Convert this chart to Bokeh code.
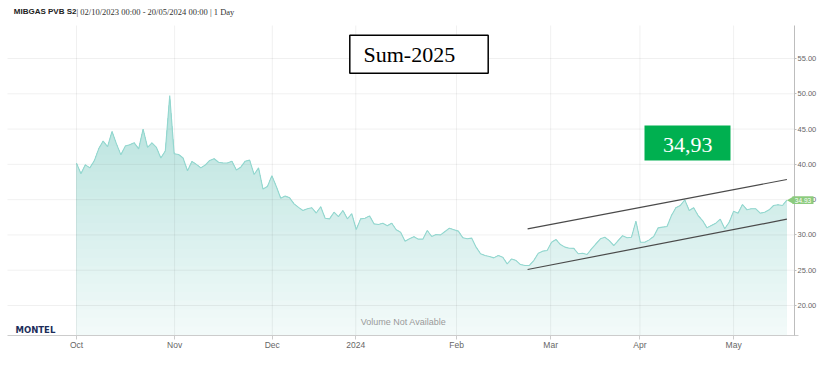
import numpy as np
from bokeh.plotting import figure
from bokeh.models import (Range1d, FixedTicker, NumeralTickFormatter, Label,
                          BoxAnnotation)
from bokeh.embed import file_html
from bokeh.resources import INLINE

# ---------------- data ----------------
title_name = "MIBGAS PVB S2"
title_rest = "| 02/10/2023 00:00 - 20/05/2024 00:00 | 1 Day"
contract = "Sum-2025"

prices = [
    40.17, 38.66, 39.93, 39.50, 40.50, 42.20, 43.30, 42.50, 44.66,
    42.90, 41.35, 42.60, 42.77, 43.05, 42.20, 45.00, 42.40, 43.05, 42.40,
    40.90, 41.90, 49.76, 41.50, 41.40, 40.90, 39.10, 40.40, 40.00, 39.50,
    39.90, 40.55, 40.80, 40.30, 40.20, 40.20, 40.45, 39.20, 39.60, 40.45,
    40.60, 38.56, 39.50, 36.50, 36.86, 38.40, 36.86, 35.20, 35.50, 35.26,
    34.40, 33.90, 33.46, 33.70, 33.85, 33.10, 34.00, 32.37, 32.28, 33.22, 32.60,
    33.46, 32.28, 33.00, 30.77, 32.28, 32.37, 32.70, 31.57, 31.48, 31.66,
    31.29, 31.66, 30.73, 30.39, 29.10, 29.45, 29.73, 29.40, 29.40, 30.63,
    29.78, 30.06, 30.00, 30.49, 30.96, 30.73, 30.54, 29.60, 29.45, 29.55,
    28.27, 27.33, 27.08, 26.94, 26.75, 27.08, 26.84, 25.90, 26.60, 26.37,
    25.80, 25.67, 25.67, 26.37, 27.40, 27.70, 27.80, 28.97, 29.35, 28.64,
    28.27, 28.12, 28.10, 27.33, 27.40, 27.23, 28.03, 28.74, 29.45, 29.68,
    29.20, 28.50, 29.20, 29.90, 29.60, 29.68, 31.95, 28.97, 28.97, 29.30,
    29.78, 31.00, 31.10, 31.19, 32.75, 33.84, 34.17, 34.97, 33.46, 33.84,
    32.75, 32.04, 31.00, 31.34, 31.66, 32.23, 30.87, 31.80, 33.37, 33.08,
    34.31, 33.56, 33.70, 33.70, 33.08, 33.22, 33.56, 34.17, 34.27, 34.17,
    34.93,
]
day_index = list(range(len(prices)))

month_labels = ["Oct", "Nov", "Dec", "2024", "Feb", "Mar", "Apr", "May"]
month_pos = [0, 22.1, 44.1, 62.9, 85.6, 106.8, 126.9, 148.0]
y_ticks = [20, 25, 30, 35, 40, 45, 50, 55]

trend_upper_x = [101.6, 160.0]
trend_upper_y = [30.87, 37.85]
trend_lower_x = [101.6, 160.0]
trend_lower_y = [25.10, 32.23]

# ---------------- layout constants (pixels) ----------------
W, H = 830, 366
X0_PX, PX_PER_DAY = 76.0, 4.44          # first trading day at x=76 px
Y20_PX, PX_PER_UNIT = 305.0, 7.057      # value 20 at y=305 px
PLOT_L, PLOT_R, PLOT_T, PLOT_B = 7.0, 794.0, 25.0, 334.5


def xi(px):
    return (px - X0_PX) / PX_PER_DAY


def yv(py):
    return 20.0 + (Y20_PX - py) / PX_PER_UNIT


p = figure(width=W, height=H, x_range=Range1d(xi(0), xi(W)),
           y_range=Range1d(yv(H), yv(0)), y_axis_location="right",
           toolbar_location=None, output_backend="svg",
           min_border=0, min_border_left=0, min_border_right=0,
           min_border_top=0, min_border_bottom=0)
p.outline_line_color = None
p.background_fill_color = "white"
p.border_fill_color = "white"
p.xgrid.visible = False
p.ygrid.visible = False

base = yv(PLOT_B)

# gradient-like area fill (layers from top to bottom)
ys = np.array(prices, dtype=float)
n_layers = 36
levels = np.linspace(base, yv(PLOT_T), n_layers + 1)
c_bot = np.array([244, 251, 250], dtype=float)
slope = np.array([-1.85, -0.73, -0.85])
for k in range(n_layers, 0, -1):
    mid = 0.5 * (levels[k - 1] + levels[k])
    c = np.clip(c_bot + slope * (mid - base), 0, 255).astype(int)
    col = "#%02x%02x%02x" % tuple(c)
    p.varea(x=day_index, y1=np.full(len(ys), base),
            y2=np.minimum(ys, levels[k]), fill_color=col, fill_alpha=1.0)

# grid lines (over the translucent-looking fill)
p.segment(x0=[xi(PLOT_L)] * len(y_ticks), x1=[xi(PLOT_R)] * len(y_ticks),
          y0=y_ticks, y1=y_ticks, line_color="black", line_alpha=0.06,
          line_width=1)
p.segment(x0=month_pos, x1=month_pos, y0=[base] * len(month_pos),
          y1=[yv(PLOT_T)] * len(month_pos), line_color="black",
          line_alpha=0.06, line_width=1)

p.line(day_index, prices, line_color="#93d7cf", line_width=1.1)

# trend channel
p.line(trend_upper_x, trend_upper_y, line_color="#4a4a4a", line_width=1.2)
p.line(trend_lower_x, trend_lower_y, line_color="#4a4a4a", line_width=1.2)

# axes (fixed at the plot-area edges)
narrow = "'Liberation Sans Narrow', 'Liberation Sans', sans-serif"
ya = p.yaxis[0]
ya.fixed_location = xi(PLOT_R)
ya.bounds = (yv(PLOT_B), yv(PLOT_T))
ya.ticker = FixedTicker(ticks=y_ticks)
ya.formatter = NumeralTickFormatter(format="0.00")
ya.axis_line_color = "#bdbdbd"
ya.major_tick_line_color = "#bdbdbd"
ya.major_tick_out = 2
ya.major_tick_in = 0
ya.minor_tick_out = 0
ya.minor_tick_in = 0
ya.major_label_standoff = 1
ya.major_label_text_font_size = "7.5px"
ya.major_label_text_color = "#666666"
ya.major_label_text_font = narrow

xa = p.xaxis[0]
xa.fixed_location = base
xa.bounds = (xi(PLOT_L), xi(798))
xa.ticker = FixedTicker(ticks=month_pos)
xa.major_label_overrides = {pos: lab for pos, lab in zip(month_pos, month_labels)}
xa.axis_line_color = "#cccccc"
xa.major_tick_line_color = "#cccccc"
xa.major_tick_out = 4
xa.major_tick_in = 0
xa.minor_tick_out = 0
xa.minor_tick_in = 0
xa.major_label_standoff = 1
xa.major_label_text_font_size = "8.5px"
xa.major_label_text_color = "#666666"
xa.major_label_text_font = narrow


def sy(py):
    return H - py


# title
p.add_layout(Label(x=13.3, y=sy(13.5) + 2.5, x_units="screen", y_units="screen",
                   text=title_name, text_font="Liberation Sans",
                   text_font_style="bold", text_font_size="8px",
                   text_color="#222222", text_baseline="alphabetic"))
p.add_layout(Label(x=76, y=sy(14) + 2.5, x_units="screen", y_units="screen",
                   text=title_rest, text_font="Liberation Serif",
                   text_font_size="8.5px", text_color="#333333",
                   text_baseline="alphabetic"))

# contract box
p.add_layout(BoxAnnotation(left=349.3, right=487.7, bottom=sy(72.7), top=sy(34.7),
                           left_units="screen", right_units="screen",
                           bottom_units="screen", top_units="screen",
                           fill_color="white", fill_alpha=1.0,
                           line_color="black", line_alpha=1.0, line_width=1.5))
p.add_layout(Label(x=363, y=sy(61.7) + 8, x_units="screen", y_units="screen",
                   text=contract, text_font="Liberation Serif",
                   text_font_size="22px", text_color="black",
                   text_baseline="alphabetic"))

# last price green box
p.add_layout(BoxAnnotation(left=644, right=730, bottom=sy(160), top=sy(125),
                           left_units="screen", right_units="screen",
                           bottom_units="screen", top_units="screen",
                           fill_color="#00b050", fill_alpha=1.0,
                           line_color=None))
p.add_layout(Label(x=687.2, y=sy(152.3) + 7.5, x_units="screen", y_units="screen",
                   text=f"{prices[-1]:.2f}".replace(".", ","),
                   text_font="Liberation Serif", text_font_size="22px",
                   text_color="white", text_align="center",
                   text_baseline="alphabetic"))

# price tag on the axis
tag_col = "#8ccb7e"
p.scatter(x=[xi(790.5)], y=[prices[-1]], marker="triangle", angle=np.pi / 2,
          size=7, fill_color=tag_col, line_color=None)
p.add_layout(BoxAnnotation(left=792, right=813, bottom=prices[-1] - 0.55,
                           top=prices[-1] + 0.55, left_units="screen",
                           right_units="screen", fill_color=tag_col,
                           fill_alpha=1.0, line_color=None))
p.add_layout(Label(x=802.5, y=prices[-1], x_units="screen",
                   text=f"{prices[-1]:.2f}", text_align="center",
                   text_baseline="middle", text_color="white",
                   text_font_size="6.5px", text_font=narrow))

# watermark / logo
p.add_layout(Label(x=403, y=sy(321), x_units="screen", y_units="screen",
                   text="Volume Not Available", text_align="center",
                   text_baseline="middle", text_font="Liberation Sans",
                   text_font_size="9px", text_color="#9a9a9a"))
p.add_layout(Label(x=15, y=sy(332) + 2.5, x_units="screen", y_units="screen",
                   text="MONTEL", text_font="DejaVu Sans",
                   text_font_style="bold", text_font_size="8.5px",
                   text_color="#1c2d5a", text_baseline="alphabetic"))

open("out.html", "w").write(file_html(p, INLINE))
